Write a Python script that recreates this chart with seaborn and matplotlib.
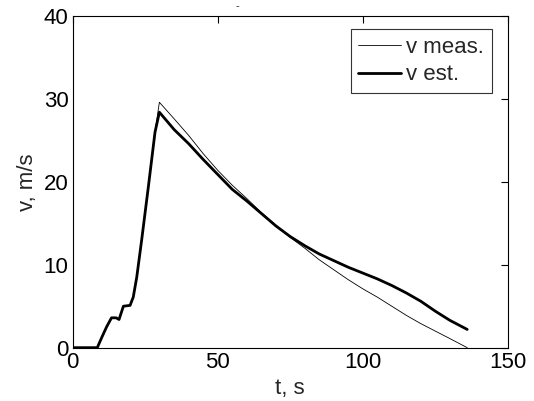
import pandas as pd
import matplotlib
matplotlib.use("Agg")
import matplotlib.pyplot as plt
import seaborn as sns

# time axis and velocities
t_rise = [0, 8.5, 10, 11.7, 13.4, 15, 16, 17.5, 19.8, 20.9, 22.1, 23.8, 26.1, 28.4]
v_rise = [0, 0, 1.2, 2.5, 3.6, 3.6, 3.4, 5.0, 5.1, 6.1, 8.5, 13.0, 19.4, 26.0]

t_fall = [29.9, 35, 40, 45, 50, 55, 60, 65, 70, 75, 80, 85, 90,
          95, 100, 105, 110, 115, 120, 125, 130, 136]
v_meas_fall = [29.6, 27.6, 25.6, 23.4, 21.4, 19.6, 18.0, 16.3, 14.8, 13.3, 12.0,
               10.6, 9.4, 8.2, 7.1, 6.1, 5.0, 3.9, 2.9, 2.0, 1.1, 0.0]
v_est_fall = [28.4, 26.3, 24.6, 22.7, 20.9, 19.1, 17.7, 16.2, 14.7, 13.4, 12.3,
              11.3, 10.5, 9.7, 9.0, 8.3, 7.5, 6.6, 5.6, 4.4, 3.3, 2.2]

t = t_rise + t_fall
v_meas = v_rise + v_meas_fall
v_est = v_rise + v_est_fall

df = pd.DataFrame({"t": t, "meas": v_meas, "est": v_est})

sns.set_style("white")
plt.rcParams["font.family"] = ["Liberation Sans", "DejaVu Sans"]
fs = 16

fig = plt.figure(figsize=(5.34, 4.01), dpi=100)
ax = fig.add_axes([0.136, 0.133, 0.815, 0.827])

sns.lineplot(data=df, x="t", y="meas", color="black", linewidth=0.6,
             label="v meas.", ax=ax)
sns.lineplot(data=df, x="t", y="est", color="black", linewidth=2.0,
             label="v est.", ax=ax)

ax.set_xlim(0, 150)
ax.set_ylim(0, 40)
ax.set_xticks([0, 50, 100, 150])
ax.set_yticks([0, 10, 20, 30, 40])
ax.tick_params(direction="in", length=5, width=0.8, top=True, right=True,
               labelsize=fs, colors="black", pad=3)
for s in ax.spines.values():
    s.set_color("black")
    s.set_linewidth(0.8)

ax.set_xlabel("t, s", fontsize=fs, labelpad=4)
ax.set_ylabel("v, m/s", fontsize=fs, labelpad=4)

leg = ax.legend(loc="upper right", bbox_to_anchor=(0.963, 0.961), fontsize=fs,
                frameon=True, fancybox=False, handlelength=1.9,
                handletextpad=0.25, borderpad=0.35, labelspacing=0.3,
                borderaxespad=0)
leg.get_frame().set_edgecolor("black")
leg.get_frame().set_linewidth(0.8)

fig.text(0.445, 0.985, "-", fontsize=8, ha="center", va="center")

fig.savefig("out.png", dpi=100)
